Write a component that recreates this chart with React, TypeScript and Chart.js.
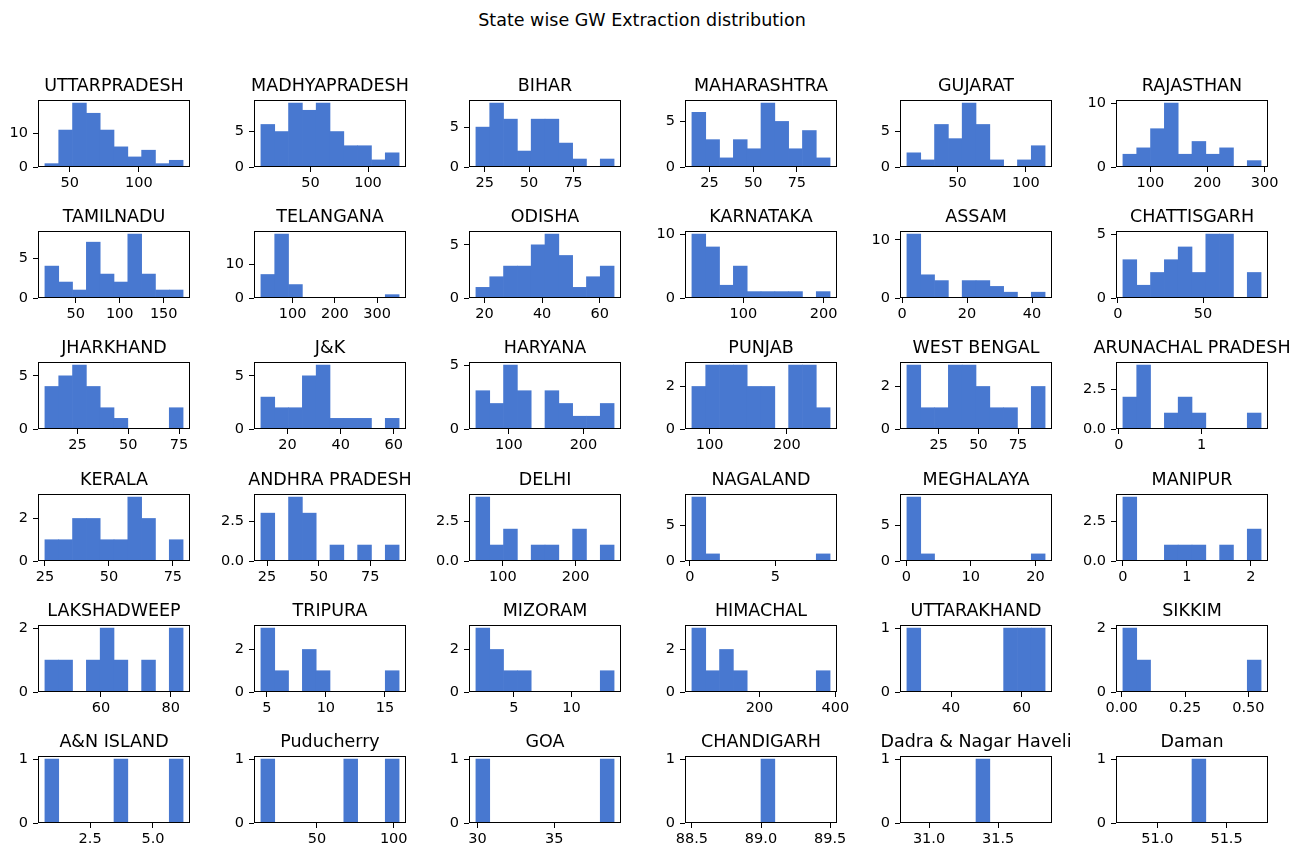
import React, { useEffect, useRef } from 'react';
import { Chart, registerables } from 'chart.js';

Chart.register(...registerables);

const mainTitle = 'State wise GW Extraction distribution';

const states = [
  'UTTARPRADESH', 'MADHYAPRADESH', 'BIHAR', 'MAHARASHTRA', 'GUJARAT', 'RAJASTHAN',
  'TAMILNADU', 'TELANGANA', 'ODISHA', 'KARNATAKA', 'ASSAM', 'CHATTISGARH',
  'JHARKHAND', 'J&K', 'HARYANA', 'PUNJAB', 'WEST BENGAL', 'ARUNACHAL PRADESH',
  'KERALA', 'ANDHRA PRADESH', 'DELHI', 'NAGALAND', 'MEGHALAYA', 'MANIPUR',
  'LAKSHADWEEP', 'TRIPURA', 'MIZORAM', 'HIMACHAL', 'UTTARAKHAND', 'SIKKIM',
  'A&N ISLAND', 'Puducherry', 'GOA', 'CHANDIGARH', 'Dadra & Nagar Haveli', 'Daman',
];

// lowest and highest value of each state's data (histogram range, 10 bins)
const binLow = [
  32, 7, 20, 15, 13, 52,
  15, 25, 17, 36, 1.5, 3,
  9, 10, 56, 77, 5, 0.05,
  25, 22, 63, 0.12, 0.1, 0,
  44, 4.5, 1.7, 22, 27.5, 0.005,
  0.7, 13.5, 29.9, 88.5, 30.84, 50.75,
];
const binHigh = [
  132, 127, 98, 94, 114, 294,
  172, 352, 65, 208, 44, 84,
  77, 62, 241, 256, 92, 1.72,
  79, 89, 253, 8.2, 21.5, 2.16,
  83.5, 16.2, 13.7, 386, 66.6, 0.55,
  6.2, 103.5, 38.9, 89.5, 31.84, 51.75,
];

const counts = [
  [1, 11, 19, 16, 11, 6, 3, 5, 1, 2],
  [6, 5, 9, 8, 9, 5, 3, 3, 1, 2],
  [5, 8, 6, 2, 6, 6, 3, 1, 0, 1],
  [6, 3, 1, 3, 2, 7, 5, 2, 4, 1],
  [2, 1, 6, 4, 9, 6, 1, 0, 1, 3],
  [2, 3, 6, 10, 2, 4, 2, 3, 0, 1],
  [4, 2, 1, 7, 3, 2, 8, 3, 1, 1],
  [7, 19, 4, 0, 0, 0, 0, 0, 0, 1],
  [1, 2, 3, 3, 5, 6, 4, 1, 2, 3],
  [10, 8, 2, 5, 1, 1, 1, 1, 0, 1],
  [11, 4, 3, 0, 3, 3, 2, 1, 0, 1],
  [3, 1, 2, 3, 4, 2, 5, 5, 0, 2],
  [4, 5, 6, 4, 2, 1, 0, 0, 0, 2],
  [3, 2, 2, 5, 6, 1, 1, 1, 0, 1],
  [3, 2, 5, 3, 0, 3, 2, 1, 1, 2],
  [2, 3, 3, 3, 2, 2, 0, 3, 3, 1],
  [3, 1, 1, 3, 3, 2, 1, 1, 0, 2],
  [2, 4, 0, 1, 2, 1, 0, 0, 0, 1],
  [1, 1, 2, 2, 1, 1, 3, 2, 0, 1],
  [3, 0, 4, 3, 0, 1, 0, 1, 0, 1],
  [4, 1, 2, 0, 1, 1, 0, 2, 0, 1],
  [9, 1, 0, 0, 0, 0, 0, 0, 0, 1],
  [9, 1, 0, 0, 0, 0, 0, 0, 0, 1],
  [4, 0, 0, 1, 1, 1, 0, 1, 0, 2],
  [1, 1, 0, 1, 2, 1, 0, 1, 0, 2],
  [3, 1, 0, 2, 1, 0, 0, 0, 0, 1],
  [3, 2, 1, 1, 0, 0, 0, 0, 0, 1],
  [3, 1, 2, 1, 0, 0, 0, 0, 0, 1],
  [1, 0, 0, 0, 0, 0, 0, 1, 1, 1],
  [2, 1, 0, 0, 0, 0, 0, 0, 0, 1],
  [1, 0, 0, 0, 0, 1, 0, 0, 0, 1],
  [1, 0, 0, 0, 0, 0, 1, 0, 0, 1],
  [1, 0, 0, 0, 0, 0, 0, 0, 0, 1],
  [0, 0, 0, 0, 0, 1, 0, 0, 0, 0],
  [0, 0, 0, 0, 0, 1, 0, 0, 0, 0],
  [0, 0, 0, 0, 0, 1, 0, 0, 0, 0],
];

const xTickLabels = [
  ['50', '100'], ['50', '100'], ['25', '50', '75'], ['25', '50', '75'], ['50', '100'], ['100', '200', '300'],
  ['50', '100', '150'], ['100', '200', '300'], ['20', '40', '60'], ['100', '200'], ['0', '20', '40'], ['0', '50'],
  ['25', '50', '75'], ['20', '40', '60'], ['100', '200'], ['100', '200'], ['25', '50', '75'], ['0', '1'],
  ['25', '50', '75'], ['25', '50', '75'], ['100', '200'], ['0', '5'], ['0', '10', '20'], ['0', '1', '2'],
  ['60', '80'], ['5', '10', '15'], ['5', '10'], ['200', '400'], ['40', '60'], ['0.00', '0.25', '0.50'],
  ['2.5', '5.0'], ['50', '100'], ['30', '35'], ['88.5', '89.0', '89.5'], ['31.0', '31.5'], ['51.0', '51.5'],
];

const yTickLabels = [
  ['0', '10'], ['0', '5'], ['0', '5'], ['0', '5'], ['0', '5'], ['0', '10'],
  ['0', '5'], ['0', '10'], ['0', '5'], ['0', '10'], ['0', '10'], ['0', '5'],
  ['0', '5'], ['0', '5'], ['0', '5'], ['0', '2'], ['0', '2'], ['0.0', '2.5'],
  ['0', '2'], ['0.0', '2.5'], ['0.0', '2.5'], ['0', '5'], ['0', '5'], ['0.0', '2.5'],
  ['0', '2'], ['0', '2'], ['0', '2'], ['0', '2'], ['0', '1'], ['0', '2'],
  ['0', '1'], ['0', '1'], ['0', '1'], ['0', '1'], ['0', '1'], ['0', '1'],
];

const BAR_COLOR = '#4878d0';
const FONT = "'DejaVu Sans', sans-serif";
const TITLE_SIZE = 17.5;
const TICK_SIZE = 14.5;
const BOX_W = 152;
const BOX_H = 67;
const PAD_L = 45;
const PAD_T = 30;
const PAD_R = 25;
const PAD_B = 30;
const COLS = 6;

const colLeft = (c: number) => Math.round(38 + c * 215.6);
const rowTop = (r: number) => Math.round(100 + r * 131.2);

const framePlugin = (title: string) => ({
  id: 'frameAndTitle',
  afterDraw(chart: any) {
    const { ctx, chartArea: a } = chart;
    ctx.save();
    ctx.strokeStyle = '#000';
    ctx.lineWidth = 1;
    ctx.strokeRect(a.left + 0.5, a.top + 0.5, a.right - a.left - 1, a.bottom - a.top - 1);
    ctx.fillStyle = '#000';
    ctx.font = `${TITLE_SIZE}px ${FONT}`;
    ctx.textAlign = 'center';
    ctx.textBaseline = 'alphabetic';
    ctx.fillText(title, (a.left + a.right) / 2, a.top - 9);
    ctx.restore();
  },
});

function Hist({ idx }: { idx: number }) {
  const ref = useRef<HTMLCanvasElement | null>(null);
  const col = idx % COLS;
  const row = Math.floor(idx / COLS);
  const w = BOX_W + PAD_L + PAD_R;
  const h = BOX_H + PAD_T + PAD_B;

  useEffect(() => {
    if (!ref.current) return;
    const lo = binLow[idx];
    const hi = binHigh[idx];
    const c = counts[idx];
    const bw = (hi - lo) / c.length;
    const data = c.map((v, i) => ({ x: lo + (i + 0.5) * bw, y: v }));
    const maxC = Math.max(...c);
    const xt = xTickLabels[idx];
    const yt = yTickLabels[idx];
    const span = hi - lo;

    const chart = new Chart(ref.current, {
      type: 'bar',
      data: {
        datasets: [
          {
            data,
            backgroundColor: BAR_COLOR,
            borderWidth: 0,
            barThickness: 'flex',
            barPercentage: 1,
            categoryPercentage: 1,
          } as any,
        ],
      },
      options: {
        animation: false,
        responsive: false,
        devicePixelRatio: 1,
        layout: { padding: { left: 5, top: PAD_T, right: PAD_R, bottom: 0 } },
        plugins: {
          legend: { display: false },
          tooltip: { enabled: false },
          title: { display: false },
        },
        scales: {
          x: {
            type: 'linear',
            min: lo - 0.05 * span,
            max: hi + 0.05 * span,
            offset: false,
            grid: {
              display: true,
              drawOnChartArea: false,
              drawTicks: true,
              tickLength: 5,
              color: '#000',
              offset: false,
            },
            border: { display: false },
            ticks: {
              autoSkip: false,
              maxRotation: 0,
              minRotation: 0,
              padding: 3,
              color: '#000',
              font: { size: TICK_SIZE, family: FONT },
              callback: (_v: any, i: number) => xt[i],
            },
            afterBuildTicks: (s: any) => {
              s.ticks = xt.map((l) => ({ value: Number(l) }));
            },
            afterFit: (s: any) => {
              s.height = PAD_B;
            },
          },
          y: {
            type: 'linear',
            min: 0,
            max: maxC * 1.05,
            grid: {
              display: true,
              drawOnChartArea: false,
              drawTicks: true,
              tickLength: 5,
              color: '#000',
            },
            border: { display: false },
            ticks: {
              autoSkip: false,
              padding: 5,
              color: '#000',
              font: { size: TICK_SIZE, family: FONT },
              callback: (_v: any, i: number) => yt[i],
            },
            afterBuildTicks: (s: any) => {
              s.ticks = yt.map((l) => ({ value: Number(l) }));
            },
            afterFit: (s: any) => {
              s.width = PAD_L - 5;
            },
          },
        },
      } as any,
      plugins: [framePlugin(states[idx])],
    });
    return () => chart.destroy();
  }, [idx]);

  return (
    <div
      style={{
        position: 'absolute',
        left: colLeft(col) - PAD_L,
        top: rowTop(row) - PAD_T,
        width: w,
        height: h,
      }}
    >
      <canvas ref={ref} width={w} height={h} style={{ width: w, height: h, display: 'block' }} />
    </div>
  );
}

export default function App() {
  useEffect(() => {
    document.body.style.margin = '0';
  }, []);
  return (
    <div
      style={{
        position: 'relative',
        width: 1301,
        height: 848,
        background: '#fff',
        fontFamily: FONT,
        overflow: 'hidden',
      }}
    >
      <div
        style={{
          position: 'absolute',
          left: 0,
          top: 10,
          width: 1284,
          textAlign: 'center',
          fontSize: TITLE_SIZE,
          lineHeight: '20px',
          color: '#000',
        }}
      >
        {mainTitle}
      </div>
      {states.map((s, i) => (
        <Hist key={s} idx={i} />
      ))}
    </div>
  );
}
